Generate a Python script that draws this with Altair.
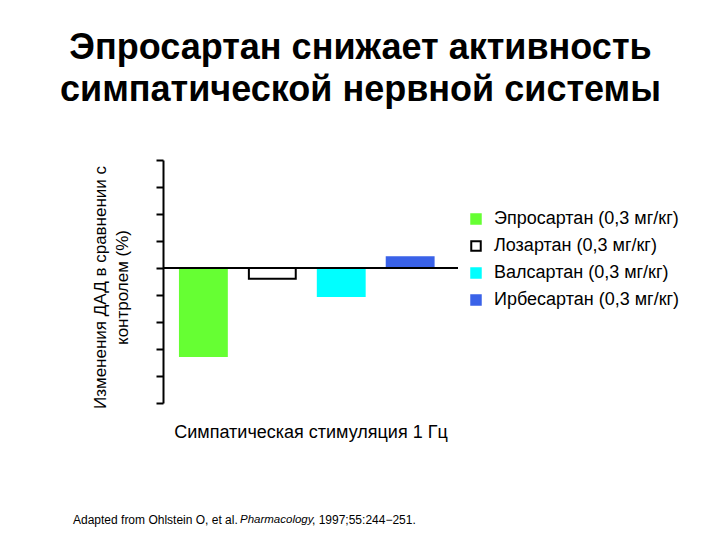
import altair as alt
import pandas as pd

drugs = ["Эпросартан (0,3 мг/кг)", "Лозартан (0,3 мг/кг)", "Валсартан (0,3 мг/кг)", "Ирбесартан (0,3 мг/кг)"]
values = [-16.3, -2.0, -5.2, 2.0]
fills = ["#66FF33", "#FFFFFF", "#00FFFF", "#3A62E8"]
strokes = ["#66FF33", "#000000", "#00FFFF", "#3A62E8"]
y_ticks = [-25, -20, -15, -10, -5, 0, 5, 10, 15, 20]

title_lines = ["Эпросартан снижает активность", "симпатической нервной системы"]
y_title = ["Изменения ДАД в сравнении с", "контролем (%)"]
x_title = "Симпатическая стимуляция 1 Гц"
foot_parts = ["Adapted from Ohlstein O, et al. ", "Pharmacology", ", 1997;55:244\u2212251."]

FONT = "Liberation Sans"

df = pd.DataFrame({"drug": drugs, "value": values})

W, H = 295, 243

xscale = alt.Scale(domain=drugs, paddingInner=0.32, paddingOuter=0.3, align=0.41)
yscale = alt.Scale(domain=[-25, 20], nice=False, zero=False)

bars = alt.Chart(df).mark_bar(strokeWidth=2).encode(
    x=alt.X("drug:N", scale=xscale, sort=drugs,
            axis=alt.Axis(labels=False, ticks=False, domain=False, title=x_title,
                          titleFontSize=18, titleFont=FONT, titleFontWeight="normal",
                          titleColor="black", titlePadding=0, titleY=29, titleBaseline="middle")),
    y=alt.Y("value:Q", scale=yscale,
            axis=alt.Axis(values=y_ticks, tickCount=10, labels=False, labelOverlap=False,
                          grid=False, tickSize=7, tickWidth=2,
                          tickColor="black", domainColor="black", domainWidth=2,
                          title=y_title, titleFontSize=17, titleFont=FONT,
                          titleFontWeight="normal", titleColor="black", titleLineHeight=22,
                          titleX=-63, titleY=127, titleBaseline="middle", titleAngle=270)),
    fill=alt.Fill("drug:N", scale=alt.Scale(domain=drugs, range=fills),
                  legend=alt.Legend(title=None, orient="none", legendX=304, legendY=50,
                                    symbolType="square", symbolSize=90, symbolStrokeWidth=2,
                                    labelFontSize=18, labelFont=FONT, labelColor="black",
                                    labelLimit=400, labelOffset=9, rowPadding=9, padding=0)),
    stroke=alt.Stroke("drug:N", scale=alt.Scale(domain=drugs, range=strokes)),
)

zero = alt.Chart(pd.DataFrame({"z": [0]})).mark_rule(color="black", strokeWidth=2).encode(
    y=alt.Y("z:Q", scale=yscale)
)

foot1 = alt.Chart(pd.DataFrame({"t": [foot_parts[0]]})).mark_text(
    align="left", baseline="middle", fontSize=12, font=FONT, color="black"
).encode(x=alt.value(-90), y=alt.value(360), text="t:N")
foot2 = alt.Chart(pd.DataFrame({"t": [foot_parts[1]]})).mark_text(
    align="left", baseline="middle", fontSize=11.5, font=FONT, fontStyle="italic", color="black"
).encode(x=alt.value(77), y=alt.value(360), text="t:N")
foot3 = alt.Chart(pd.DataFrame({"t": [foot_parts[2]]})).mark_text(
    align="left", baseline="middle", fontSize=12, font=FONT, color="black"
).encode(x=alt.value(149), y=alt.value(360), text="t:N")

chart = alt.layer(bars, zero, foot1, foot2, foot3).properties(
    width=W, height=H,
    background="white",
    title=alt.TitleParams(title_lines, fontSize=36, font=FONT, fontWeight="bold", color="black",
                          anchor="middle", dx=50, offset=50, lineHeight=42),
    autosize=alt.AutoSizeParams(type="none"),
    padding={"left": 163, "top": 160, "right": 262, "bottom": 137},
).configure_view(strokeWidth=0, stroke=None)

chart.save("out.html", embed_options={"renderer": "svg", "actions": False})
